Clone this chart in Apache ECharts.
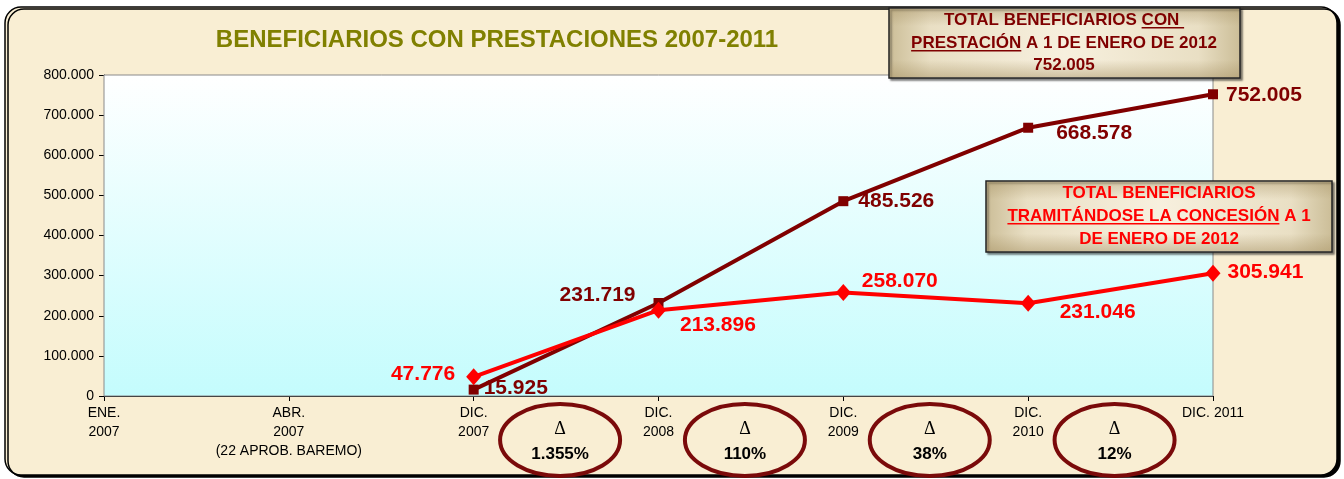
<!DOCTYPE html>
<html><head><meta charset="utf-8">
<script src="https://cdn.jsdelivr.net/npm/echarts@6/dist/echarts.min.js"></script>
<style>html,body{margin:0;padding:0;background:#fff}#c{width:1344px;height:479px}</style>
</head><body><div id="c"></div>
<script>
// ---- data ----
const categories = ['ENE.\n2007', 'ABR.\n2007\n(22 APROB. BAREMO)', 'DIC.\n2007', 'DIC.\n2008', 'DIC.\n2009', 'DIC.\n2010', 'DIC. 2011'];
const conPrestacion = [null, null, 15925, 231719, 485526, 668578, 752005];
const tramitandose = [null, null, 47776, 213896, 258070, 231046, 305941];
const variaciones = ['1.355%', '110%', '38%', '12%'];
const yMin = 0, yMax = 800000, yStep = 100000;
const titleText = 'BENEFICIARIOS CON PRESTACIONES 2007-2011';
const box1Lines = ['TOTAL BENEFICIARIOS CON ', 'PRESTACIÓN A 1 DE ENERO DE 2012', '752.005'];
const box2Lines = ['TOTAL BENEFICIARIOS', 'TRAMITÁNDOSE LA CONCESIÓN A 1', 'DE ENERO DE 2012'];

// ---- label placement (style only) ----
const darkLabelPos = [null, null,
  {position: 'right', offset: [0, -1]},
  {position: 'left', offset: [-13, -8]},
  {position: 'right', offset: [5, 0]},
  {position: 'right', offset: [18, 5]},
  {position: 'right', offset: [3, 1]}];
const redLabelPos = [null, null,
  {position: 'left', offset: [-6, -3]},
  {position: 'right', offset: [9, 15]},
  {position: 'right', offset: [6, -11]},
  {position: 'right', offset: [19, 9]},
  {position: 'right', offset: [2, -1]}];

const FONT = 'Liberation Sans, Arial, Helvetica, sans-serif';
const DARK = '#800000', RED = '#ff0000';

function fmt(v) { return String(Math.round(v)).replace(/\B(?=(\d{3})+(?!\d))/g, '.'); }

function buildData(vals, pos, color) {
  return vals.map((v, i) => v == null ? null : {
    value: v,
    label: Object.assign({show: true, color: color, fontWeight: 'bold', fontSize: 21, fontFamily: FONT,
      formatter: p => fmt(p.value)}, pos[i])
  });
}

const chart = echarts.init(document.getElementById('c'), null, {renderer: 'canvas'});

chart.setOption({
  animation: false,
  backgroundColor: '#ffffff',
  grid: {left: 104, right: 131, top: 75, bottom: 83, show: true,
    backgroundColor: {type: 'linear', x: 0, y: 0, x2: 0, y2: 1,
      colorStops: [{offset: 0, color: '#ffffff'}, {offset: 1, color: '#c4fcfd'}]},
    borderColor: '#8a8a8a', borderWidth: 1, z: 1},
  xAxis: {
    type: 'category', data: categories, boundaryGap: false,
    axisLine: {lineStyle: {color: '#000', width: 1}},
    axisTick: {show: true, inside: false, length: 5, lineStyle: {color: '#000'}},
    axisLabel: {interval: 0, color: '#000', fontSize: 14, fontFamily: FONT, lineHeight: 19, margin: 8},
    splitLine: {show: false}
  },
  yAxis: {
    type: 'value', min: yMin, max: yMax, interval: yStep,
    axisLine: {show: true, lineStyle: {color: '#000', width: 1}},
    axisTick: {show: true, length: 5, lineStyle: {color: '#000'}},
    axisLabel: {color: '#000', fontSize: 14, fontFamily: FONT, margin: 10, formatter: v => fmt(v)},
    splitLine: {show: true, lineStyle: {color: '#9a9a9a', width: 1}}
  },
  series: [
    {type: 'line', name: 'Con prestación', data: buildData(conPrestacion, darkLabelPos, DARK),
      symbol: 'rect', symbolSize: 10, showAllSymbol: true,
      lineStyle: {color: DARK, width: 4}, itemStyle: {color: DARK}, z: 3},
    {type: 'line', name: 'Tramitándose', data: buildData(tramitandose, redLabelPos, RED),
      symbol: 'diamond', symbolSize: [15, 17], showAllSymbol: true,
      lineStyle: {color: RED, width: 4}, itemStyle: {color: RED}, z: 4}
  ]
});

// ---- annotations ----
const mctx = document.createElement('canvas').getContext('2d');
function tw(text, font) { mctx.font = font; return mctx.measureText(text).width; }

function boxGradH() {
  return {type: 'linear', x: 0, y: 0, x2: 1, y2: 0,
    colorStops: [{offset: 0, color: '#cbbd97'}, {offset: 0.12, color: '#e9dfc4'}, {offset: 0.5, color: '#f7f0de'},
      {offset: 0.88, color: '#e9dfc4'}, {offset: 1, color: '#cbbd97'}]};
}
function boxGradV() {
  return {type: 'linear', x: 0, y: 0, x2: 0, y2: 1,
    colorStops: [{offset: 0, color: 'rgba(170,150,105,0.45)'}, {offset: 0.25, color: 'rgba(170,150,105,0)'},
      {offset: 0.75, color: 'rgba(170,150,105,0)'}, {offset: 1, color: 'rgba(170,150,105,0.5)'}]};
}

const g = [];
// outer frame
g.push({type: 'rect', z: -10, shape: {x: 5, y: 7, width: 1332, height: 468, r: 16},
  style: {fill: '#f9eed3', stroke: '#000', lineWidth: 1.5, shadowColor: '#000', shadowOffsetX: 3, shadowOffsetY: 2, shadowBlur: 0}, silent: true});
// title
g.push({type: 'text', z: 50, style: {text: titleText, x: 497, y: 40, textAlign: 'center', textVerticalAlign: 'middle',
  font: 'bold 24px ' + FONT, fill: '#808000'}});

function addBox(x, y, w, h, lines, cx, ys, color, fs, underlines) {
  g.push({type: 'rect', z: 60, shape: {x: x, y: y, width: w, height: h},
    style: {fill: boxGradH(), stroke: '#222', lineWidth: 1.5, shadowColor: 'rgba(0,0,0,0.45)', shadowOffsetX: 2, shadowOffsetY: 2, shadowBlur: 2}});
  g.push({type: 'rect', z: 60, shape: {x: x + 1, y: y + 1, width: w - 2, height: h - 2},
    style: {fill: boxGradV(), stroke: null}});
  const font = 'bold ' + fs + 'px ' + FONT;
  lines.forEach((t, i) => {
    g.push({type: 'text', z: 61, style: {text: t, x: cx, y: ys[i], textAlign: 'center', textVerticalAlign: 'middle', font: font, fill: color}});
  });
  underlines.forEach(u => {
    const full = tw(lines[u.line], font);
    const start = cx - full / 2 + tw(u.pre, font);
    const end = start + tw(u.part, font);
    const uy = ys[u.line] + fs * 0.45;
    g.push({type: 'line', z: 62, shape: {x1: start, y1: uy, x2: end, y2: uy}, style: {stroke: color, lineWidth: 1.5}});
  });
}
addBox(889, 8, 351, 70, box1Lines, 1064, [20, 43, 65], '#7f0000', 17,
  [{line: 0, pre: 'TOTAL BENEFICIARIOS ', part: 'CON '}, {line: 1, pre: '', part: 'PRESTACIÓN'}]);
addBox(986, 181, 346, 71, box2Lines, 1159, [193, 216, 239], '#ff0000', 17,
  [{line: 1, pre: '', part: 'TRAMITÁNDOSE LA CONCESIÓN'}]);

// ellipses between consecutive December points
variaciones.forEach((v, i) => {
  const a = chart.convertToPixel({xAxisIndex: 0}, categories[i + 2]);
  const b = chart.convertToPixel({xAxisIndex: 0}, categories[i + 3]);
  const cx = (a + b) / 2 - 6;
  g.push({type: 'ellipse', z: 70, shape: {cx: cx, cy: 440, rx: 60, ry: 36},
    style: {fill: 'rgba(0,0,0,0)', stroke: '#7a0a0a', lineWidth: 4}});
  g.push({type: 'text', z: 71, style: {text: 'Δ', x: cx, y: 429, textAlign: 'center', textVerticalAlign: 'middle',
    font: '18px Liberation Serif, Times New Roman, serif', fill: '#000'}});
  g.push({type: 'text', z: 71, style: {text: v, x: cx, y: 454, textAlign: 'center', textVerticalAlign: 'middle',
    font: 'bold 17px ' + FONT, fill: '#000'}});
});

chart.setOption({graphic: {elements: g}});
</script>
</body></html>
